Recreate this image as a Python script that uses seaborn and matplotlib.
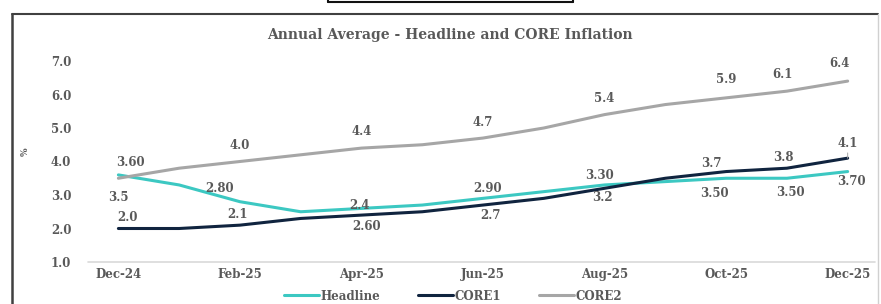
import matplotlib
matplotlib.use("Agg")
import matplotlib.pyplot as plt
from matplotlib.lines import Line2D
import seaborn as sns
import pandas as pd

months = ["Dec-24", "Jan-25", "Feb-25", "Mar-25", "Apr-25", "May-25", "Jun-25",
          "Jul-25", "Aug-25", "Sep-25", "Oct-25", "Nov-25", "Dec-25"]
headline = [3.6, 3.3, 2.8, 2.5, 2.6, 2.7, 2.9, 3.1, 3.3, 3.4, 3.5, 3.5, 3.7]
core1 = [2.0, 2.0, 2.1, 2.3, 2.4, 2.5, 2.7, 2.9, 3.2, 3.5, 3.7, 3.8, 4.1]
core2 = [3.5, 3.8, 4.0, 4.2, 4.4, 4.5, 4.7, 5.0, 5.4, 5.7, 5.9, 6.1, 6.4]
series_names = ["Headline", "CORE1", "CORE2"]

# which points get a data label, and the label text format
label_idx = [0, 2, 4, 6, 8, 10, 11, 12]
label_fmt = {"Headline": "{:.2f}", "CORE1": "{:.1f}", "CORE2": "{:.1f}"}

# label offsets in pixels (dx, dy) per series, same order as label_idx
offsets = {
    "Headline": [(12, 12), (-20, 13), (5, -18), (5, 10), (-5, 9), (-12, -15), (4, -14), (4, -10)],
    "CORE1": [(9, 11), (-2, 11), (-2, 10), (7, -10), (-2, -9), (-15, 8), (-4, 11), (0, 15)],
    "CORE2": [(0, -19), (0, 16), (0, 17), (0, 16), (0, 16), (0, 18), (-4, 17), (-8, 18)],
}

colors = {"Headline": "#3CC8C2", "CORE1": "#10243F", "CORE2": "#A6A6A6"}
text_color = "#595959"

rows = []
for name, vals in zip(series_names, [headline, core1, core2]):
    for i, v in enumerate(vals):
        rows.append({"idx": i, "month": months[i], "value": v, "series": name})
df = pd.DataFrame(rows)

sns.set_style("white")
plt.rcParams["font.family"] = ["DejaVu Serif"]
plt.rcParams["font.weight"] = "bold"

fig = plt.figure(figsize=(8.81, 3.04), dpi=100)
ax = fig.add_axes([88 / 881, 1 - 262 / 304, 787 / 881, 201 / 304])

sns.lineplot(data=df, x="idx", y="value", hue="series", hue_order=series_names,
             palette=colors, linewidth=2.2, ax=ax, legend=False)

ax.set_xlim(-0.5, 12.45)
ax.set_ylim(1, 7)
ax.set_yticks([1, 2, 3, 4, 5, 6, 7])
ax.set_yticklabels([f"{t:.1f}" for t in [1, 2, 3, 4, 5, 6, 7]])
ax.set_xticks(range(0, 13, 2))
ax.set_xticklabels(months[::2])
ax.tick_params(axis="y", length=0, pad=12, labelsize=8.5, labelcolor=text_color)
ax.tick_params(axis="x", length=0, pad=4, labelsize=8.5, labelcolor=text_color)
for t in ax.get_xticklabels() + ax.get_yticklabels():
    t.set_fontweight("bold")
for s in ax.spines.values():
    s.set_visible(False)
ax.axhline(1, color="#D9D9D9", linewidth=1.2, zorder=0, clip_on=False)
ax.set_xlabel("")
ax.set_ylabel("")

# data labels
for name, vals in zip(series_names, [headline, core1, core2]):
    for j, i in enumerate(label_idx):
        dx, dy = offsets[name][j]
        kw = {}
        if name == "CORE1" and i == 12:
            kw["arrowprops"] = dict(arrowstyle="-", color="#A6A6A6", lw=0.7,
                                    shrinkA=0, shrinkB=0)
        ax.annotate(label_fmt[name].format(vals[i]), (i, vals[i]),
                    xytext=(dx, dy), textcoords="offset pixels",
                    ha="center", va="center", fontsize=8.5, fontweight="bold",
                    color=text_color, **kw)

fig.text(450 / 881, 1 - 35 / 304, "Annual Average - Headline and CORE Inflation",
         ha="center", va="center", fontsize=10, fontweight="bold", color=text_color)
fig.text(25 / 881, 1 - 152 / 304, "%", rotation=90, ha="center", va="center",
         fontsize=6.5, fontweight="bold", color=text_color)

handles = [Line2D([], [], color=colors[n], linewidth=2.2) for n in series_names]
fig.legend(handles, series_names, loc="center", bbox_to_anchor=(453 / 881, 1 - 296 / 304),
           ncol=3, frameon=False, handlelength=3.0, handletextpad=0.1,
           columnspacing=3.2, labelcolor=text_color,
           prop={"weight": "bold", "size": 8.5})

# chart frame and the edge of the box above it
fig.add_artist(Line2D([12 / 881, 12 / 881], [0, 1 - 14 / 304], color="#404040", lw=1.8))
fig.add_artist(Line2D([12 / 881, 878 / 881], [1 - 14 / 304, 1 - 14 / 304], color="#404040", lw=1.5))
fig.add_artist(Line2D([878 / 881, 878 / 881], [0, 1 - 14 / 304], color="#D0D0D0", lw=1))
fig.add_artist(Line2D([328 / 881, 573 / 881], [1 - 1.5 / 304, 1 - 1.5 / 304], color="#111111", lw=1.5))
fig.add_artist(Line2D([328 / 881, 328 / 881], [1 - 1.5 / 304, 1], color="#111111", lw=1.5))
fig.add_artist(Line2D([573 / 881, 573 / 881], [1 - 1.5 / 304, 1], color="#111111", lw=1.5))

fig.savefig("out.png", dpi=100)
